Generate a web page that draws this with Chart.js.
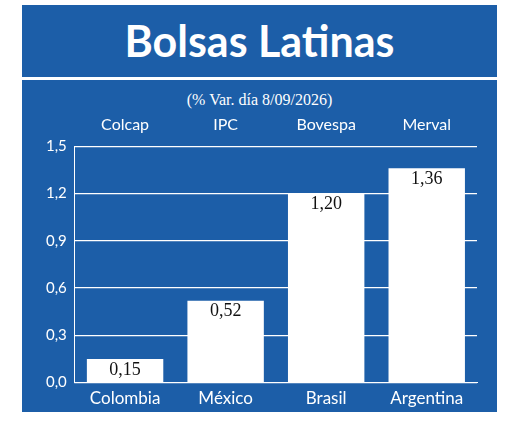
<!DOCTYPE html>
<html><head><meta charset="utf-8">
<script src="https://cdn.jsdelivr.net/npm/chart.js@4"></script>
<style>
body{margin:0;background:#fff;width:520px;height:435px;position:relative;font-family:Lato,sans-serif}
#box{position:absolute;left:22px;top:5px;width:475px;height:407px;background:#1c5ea8}
#title{height:72px;line-height:72px;text-align:center;color:#fff;font-weight:bold;font-size:43px;font-family:Lato,sans-serif}
#sep{height:3px;background:#fff}
#sub{position:absolute;top:86px;width:100%;text-align:center;color:#fff;font-family:"Liberation Serif",serif;font-size:16px}
#wrap{position:absolute;left:0;top:106px;width:475px;height:300px}
</style></head><body>
<div id="box">
<div id="title">Bolsas Latinas</div><div id="sep"></div>
<div id="sub">(% Var. día 8/09/2026)</div>
<div id="wrap"><canvas id="myChart"></canvas></div>
</div>
<script>
const countries = ['Colombia', 'México', 'Brasil', 'Argentina'];
const indices = ['Colcap', 'IPC', 'Bovespa', 'Merval'];
const values = [0.15, 0.52, 1.20, 1.36];
const yTicks = [0, 0.3, 0.6, 0.9, 1.2, 1.5];

const fmt = v => v.toFixed(2).replace('.', ',');

const valueLabels = {
    id: 'valueLabels',
    afterDatasetsDraw(chart) {
        const c = chart.ctx;
        c.save();
        c.fillStyle = '#111';
        c.font = '18px "Liberation Serif", serif';
        c.textAlign = 'center';
        c.textBaseline = 'top';
        chart.getDatasetMeta(0).data.forEach((bar, i) => {
            c.fillText(fmt(values[i]), bar.x, bar.y + 2);
        });
        c.restore();
    }
};

const ctx = document.getElementById('myChart');
new Chart(ctx, {
    type: 'bar',
    data: {
        labels: countries,
        datasets: [{
            data: values,
            backgroundColor: '#fff',
            barPercentage: 0.76,
            categoryPercentage: 1
        }]
    },
    options: {
        responsive: true,
        maintainAspectRatio: false,
        animation: false,
        layout: { padding: { left: 16, right: 20, top: 0, bottom: 4 } },
        plugins: { legend: { display: false }, tooltip: { enabled: false } },
        scales: {
            x: {
                grid: { display: false },
                border: { color: '#fff' },
                ticks: { color: '#fff', font: { size: 17, family: 'Lato' }, padding: -2 }
            },
            x2: {
                position: 'top',
                type: 'category',
                labels: indices,
                grid: { display: false },
                border: { display: false },
                ticks: { color: '#fff', font: { size: 16, family: 'Lato' }, padding: 4 }
            },
            y: {
                min: 0, max: 1.5,
                afterBuildTicks: s => { s.ticks = yTicks.map(v => ({ value: v })); },
                grid: { color: '#fff', lineWidth: 1.2, drawTicks: false },
                border: { color: '#fff' },
                ticks: { color: '#fff', font: { size: 15, family: 'Lato' }, padding: 8,
                    callback: v => v.toFixed(1).replace('.', ',') }
            }
        }
    },
    plugins: [valueLabels]
});
</script>
</body></html>
